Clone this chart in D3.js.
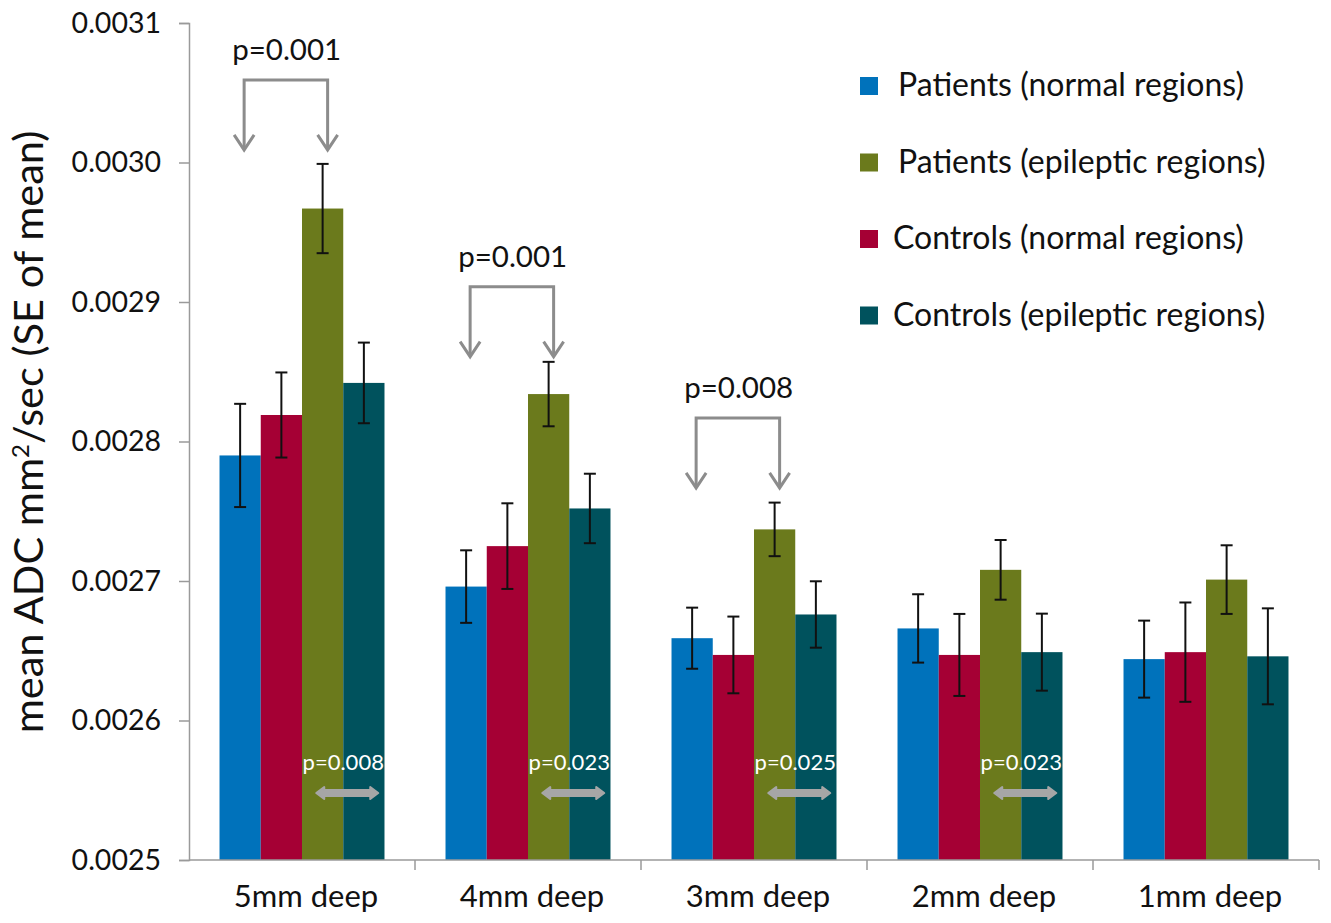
<!DOCTYPE html>
<html>
<head>
<meta charset="utf-8">
<script src="https://cdn.jsdelivr.net/npm/d3@7"></script>
<style>
    body { margin: 0; background: #fff; }
    text { font-family: Lato, "Open Sans", sans-serif; }
</style>
</head>
<body>
<svg id="chart"></svg>
<script>
// depth categories
var categories = ["5mm deep", "4mm deep", "3mm deep", "2mm deep", "1mm deep"];

// bar order inside each group
var seriesNames = ["Patients (normal regions)", "Controls (normal regions)",
                   "Patients (epileptic regions)", "Controls (epileptic regions)"];
var legendOrder = ["Patients (normal regions)", "Patients (epileptic regions)",
                   "Controls (normal regions)", "Controls (epileptic regions)"];

var patNormal   = [0.002790, 0.002696, 0.002659, 0.002666, 0.002644];
var patNormalSE = [0.0000370, 0.0000260, 0.0000219, 0.0000245, 0.0000276];
var conNormal   = [0.002819, 0.002725, 0.002647, 0.002647, 0.002649];
var conNormalSE = [0.0000305, 0.0000307, 0.0000275, 0.0000294, 0.0000356];
var patEpi      = [0.002967, 0.002834, 0.002737, 0.002708, 0.002701];
var patEpiSE    = [0.0000320, 0.0000231, 0.0000192, 0.0000214, 0.0000246];
var conEpi      = [0.002842, 0.002752, 0.002676, 0.002649, 0.002646];
var conEpiSE    = [0.0000289, 0.0000249, 0.0000238, 0.0000276, 0.0000344];

var yTicks = [0.0025, 0.0026, 0.0027, 0.0028, 0.0029, 0.0030, 0.0031];

// significance brackets (patients normal vs epileptic)
var bracketCats   = ["5mm deep", "4mm deep", "3mm deep"];
var bracketLabels = ["p=0.001", "p=0.001", "p=0.008"];
var bracketTips   = [0.0030090, 0.0028608, 0.0027667];

// white p values between epileptic bars
var pairCats   = ["5mm deep", "4mm deep", "3mm deep", "2mm deep"];
var pairLabels = ["p=0.008", "p=0.023", "p=0.025", "p=0.023"];
var pairLevel  = 0.002548;

var colors = {
    "Patients (normal regions)": "#0072bb",
    "Controls (normal regions)": "#a50034",
    "Patients (epileptic regions)": "#6b7a1c",
    "Controls (epileptic regions)": "#00525d"
};

var width = 1331, height = 923;
var margin = {top: 23, right: 12, bottom: 63, left: 189};

var values = [patNormal, conNormal, patEpi, conEpi];
var errors = [patNormalSE, conNormalSE, patEpiSE, conEpiSE];
var rows = [];
categories.forEach(function(c, i) {
    seriesNames.forEach(function(s, j) {
        rows.push({cat: c, series: s, value: values[j][i], se: errors[j][i]});
    });
});

var svg = d3.select("#chart")
    .attr("width", width)
    .attr("height", height);

var x0 = d3.scaleBand()
    .domain(categories)
    .range([margin.left, width - margin.right])
    .paddingInner(0.27)
    .paddingOuter(0.135);

var x1 = d3.scaleBand()
    .domain(seriesNames)
    .range([0, x0.bandwidth()]);

var y = d3.scaleLinear()
    .domain([0.0025, 0.0031])
    .range([height - margin.bottom, margin.top]);

// bars
svg.append("g").selectAll("rect")
    .data(rows)
    .enter()
    .append("rect")
    .attr("x", function(d) { return x0(d.cat) + x1(d.series); })
    .attr("y", function(d) { return y(d.value); })
    .attr("width", x1.bandwidth())
    .attr("height", function(d) { return y(0.0025) - y(d.value); })
    .attr("fill", function(d) { return colors[d.series]; });

// error bars
var err = svg.append("g")
    .attr("stroke", "#111")
    .attr("stroke-width", 2);
rows.forEach(function(d) {
    var cx = x0(d.cat) + x1(d.series) + x1.bandwidth() / 2;
    var t = y(d.value + d.se), b = y(d.value - d.se);
    err.append("line").attr("x1", cx).attr("x2", cx).attr("y1", t).attr("y2", b);
    err.append("line").attr("x1", cx - 6).attr("x2", cx + 6).attr("y1", t).attr("y2", t);
    err.append("line").attr("x1", cx - 6).attr("x2", cx + 6).attr("y1", b).attr("y2", b);
});

// y axis
var yAxis = svg.append("g")
    .attr("transform", "translate(" + margin.left + ",0)")
    .call(d3.axisLeft(y).tickValues(yTicks).tickFormat(d3.format(".4f")).tickSize(10).tickPadding(18));
yAxis.select(".domain").attr("stroke", "#9a9a9a").attr("stroke-width", 1.5);
yAxis.selectAll(".tick line").attr("stroke", "#9a9a9a").attr("stroke-width", 1.5);
yAxis.selectAll(".tick text")
    .attr("font-size", 28.5)
    .attr("font-family", "Lato, sans-serif")
    .attr("fill", "#111");

// x axis: ticks sit between the groups
var xAxis = svg.append("g")
    .attr("transform", "translate(0," + y(0.0025) + ")");
xAxis.append("line")
    .attr("x1", margin.left).attr("x2", width - margin.right)
    .attr("stroke", "#9a9a9a").attr("stroke-width", 1.5);
xAxis.selectAll(".sep")
    .data(categories)
    .enter()
    .append("line")
    .attr("class", "sep")
    .attr("x1", function(d) { return x0(d) - x0.step() * x0.paddingOuter() + x0.step(); })
    .attr("x2", function(d) { return x0(d) - x0.step() * x0.paddingOuter() + x0.step(); })
    .attr("y1", 0).attr("y2", 10)
    .attr("stroke", "#9a9a9a").attr("stroke-width", 1.5);
xAxis.selectAll(".cat")
    .data(categories)
    .enter()
    .append("text")
    .attr("class", "cat")
    .attr("x", function(d) { return x0(d) + x0.bandwidth() / 2 + 4; })
    .attr("y", 47)
    .attr("text-anchor", "middle")
    .attr("font-size", 31)
    .attr("fill", "#111")
    .text(function(d) { return d; });

// y label
svg.append("text")
    .attr("transform", "translate(43,432) rotate(-90)")
    .attr("text-anchor", "middle")
    .attr("font-size", 41.5)
    .attr("fill", "#111")
    .html("mean ADC mm<tspan baseline-shift='super' font-size='24'>2</tspan>/sec (SE of mean)");

// brackets with arrows
var br = svg.append("g")
    .attr("fill", "none")
    .attr("stroke", "#8c8c8c")
    .attr("stroke-width", 3);
bracketCats.forEach(function(c, i) {
    var xl = x0(c) + x1(seriesNames[0]) + x1.bandwidth() / 2 + 4;
    var xr = x0(c) + x1(seriesNames[2]) + x1.bandwidth() / 2 + 5;
    var tip = y(bracketTips[i]), top = tip - 70;
    br.append("path")
        .attr("d", "M" + xl + "," + (tip - 2) + "V" + top + "H" + xr + "V" + (tip - 2));
    [xl, xr].forEach(function(ax) {
        br.append("path")
            .attr("d", "M" + (ax - 10) + "," + (tip - 15) + "L" + ax + "," + tip + "L" + (ax + 10) + "," + (tip - 15));
    });
    svg.append("text")
        .attr("x", xl - 12)
        .attr("y", top - 20)
        .attr("font-size", 29.5)
        .attr("fill", "#111")
        .text(bracketLabels[i]);
});

// double arrows with white p values
pairCats.forEach(function(c, i) {
    var cx = x0(c) + x1(seriesNames[3]) + 4;
    var ay = y(pairLevel), hw = 31;
    svg.append("path")
        .attr("d", "M" + (cx - hw) + "," + ay +
                   "L" + (cx - hw + 8) + "," + (ay - 6) + "L" + (cx - hw + 8) + "," + (ay - 3) +
                   "L" + (cx + hw - 8) + "," + (ay - 3) + "L" + (cx + hw - 8) + "," + (ay - 6) +
                   "L" + (cx + hw) + "," + ay +
                   "L" + (cx + hw - 8) + "," + (ay + 6) + "L" + (cx + hw - 8) + "," + (ay + 3) +
                   "L" + (cx - hw + 8) + "," + (ay + 3) + "L" + (cx - hw + 8) + "," + (ay + 6) + "Z")
        .attr("fill", "#a6a6a6")
        .attr("stroke", "#a6a6a6")
        .attr("stroke-linejoin", "round")
        .attr("stroke-width", 2);
    svg.append("text")
        .attr("x", cx - 4)
        .attr("y", ay - 23)
        .attr("text-anchor", "middle")
        .attr("font-size", 22)
        .attr("fill", "#fff")
        .text(pairLabels[i]);
});

// legend
var legend = svg.append("g").selectAll("g")
    .data(legendOrder)
    .enter()
    .append("g")
    .attr("transform", function(d, i) { return "translate(860," + (86 + i * 76.5) + ")"; });
legend.append("rect")
    .attr("x", 0).attr("y", -9)
    .attr("width", 18).attr("height", 18)
    .attr("fill", function(d) { return colors[d]; });
legend.append("text")
    .attr("x", function(d, i) { return i < 2 ? 38 : 33; })
    .attr("y", 10)
    .attr("font-size", 32)
    .attr("fill", "#111")
    .text(function(d) { return d; });
</script>
</body>
</html>
